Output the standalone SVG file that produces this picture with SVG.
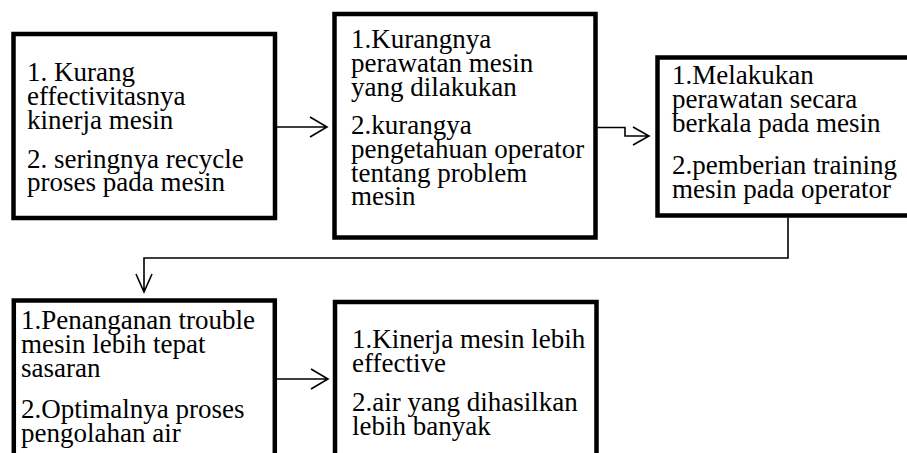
<svg xmlns="http://www.w3.org/2000/svg" width="907" height="453" viewBox="0 0 907 453">
<style>
.box{fill:#fff;stroke:#000;stroke-width:4.5}
.t{font-family:"Liberation Serif","Times New Roman",serif;font-size:27px;fill:#000}
.c{fill:none;stroke:#000;stroke-width:1.6}
</style>
<rect width="907" height="453" fill="#fff"/>
<g id="connectors">
<path class="c" d="M277 127H327M310 117L327 127L310 137"/>
<path class="c" d="M597.5 127.5H625V136H649M633 127L649 136L633 145"/>
<path class="c" d="M788 217.5V258H144V292M136 274L144 292L152 274"/>
<path class="c" d="M277 379H328M311 369L328 379L311 389"/>
</g>
<g id="node1">
<rect class="box" x="13.5" y="34" width="261.5" height="184"/>
<text class="t" x="27" y="81">1. Kurang</text>
<text class="t" x="27" y="105">effectivitasnya</text>
<text class="t" x="27" y="129">kinerja mesin</text>
<text class="t" x="27" y="168">2. seringnya recycle</text>
<text class="t" x="27" y="191">proses pada mesin</text>
</g>
<g id="node2">
<rect class="box" x="334.5" y="14" width="261" height="223.5"/>
<text class="t" x="351" y="48">1.Kurangnya</text>
<text class="t" x="351" y="72">perawatan mesin</text>
<text class="t" x="351" y="96">yang dilakukan</text>
<text class="t" x="351" y="134">2.kurangya</text>
<text class="t" x="351" y="158">pengetahuan operator</text>
<text class="t" x="351" y="182">tentang problem</text>
<text class="t" x="351" y="205">mesin</text>
</g>
<g id="node3">
<rect class="box" x="657.5" y="57.5" width="262" height="158"/>
<text class="t" x="672" y="84">1.Melakukan</text>
<text class="t" x="672" y="108">perawatan secara</text>
<text class="t" x="672" y="132">berkala pada mesin</text>
<text class="t" x="672" y="174">2.pemberian training</text>
<text class="t" x="672" y="198">mesin pada operator</text>
</g>
<g id="node4">
<rect class="box" x="13.8" y="300.5" width="261" height="170"/>
<text class="t" x="21" y="329">1.Penanganan trouble</text>
<text class="t" x="21" y="353">mesin lebih tepat</text>
<text class="t" x="21" y="377">sasaran</text>
<text class="t" x="21" y="418">2.Optimalnya proses</text>
<text class="t" x="21" y="442">pengolahan air</text>
</g>
<g id="node5">
<rect class="box" x="335" y="302" width="261.5" height="170"/>
<text class="t" x="352" y="348">1.Kinerja mesin lebih</text>
<text class="t" x="352" y="372">effective</text>
<text class="t" x="352" y="411">2.air yang dihasilkan</text>
<text class="t" x="352" y="435">lebih banyak</text>
</g>
</svg>
